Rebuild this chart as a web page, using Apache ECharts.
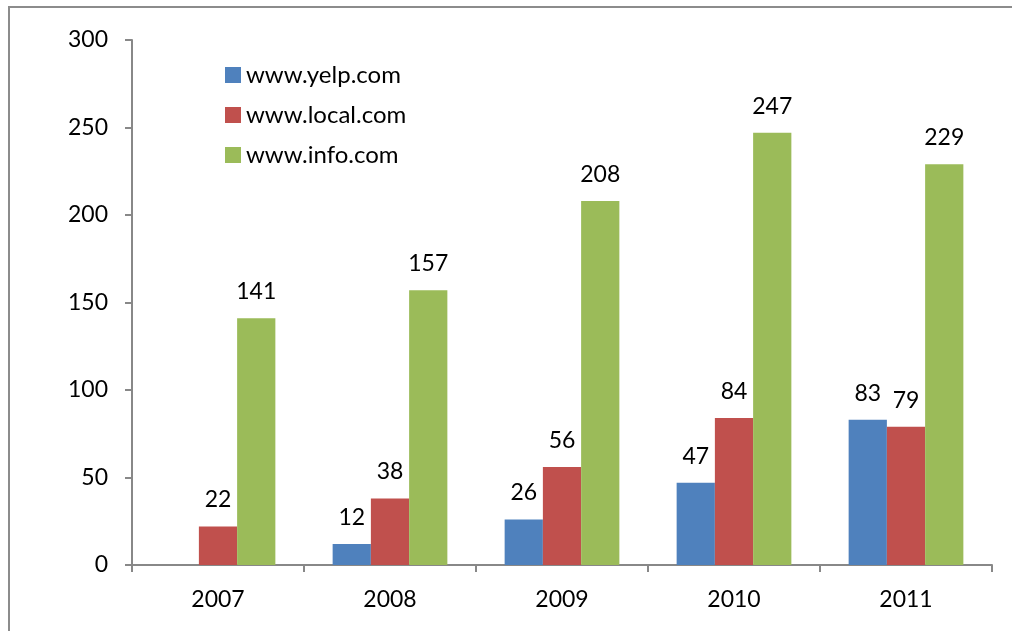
<!DOCTYPE html>
<html>
<head>
<meta charset="utf-8">
<script src="https://cdn.jsdelivr.net/npm/echarts@6/dist/echarts.min.js"></script>
<style>
  html, body { margin: 0; padding: 0; background: #fff; }
  #frame { position: absolute; left: 8px; top: 6px; width: 1010px; height: 640px;
           border-left: 2px solid #8c8c8c; border-top: 2px solid #8c8c8c; }
  #main { position: absolute; left: 0; top: 0; width: 1012px; height: 631px; }
</style>
</head>
<body>
<div id="frame"></div>
<div id="main"></div>
<script>
const years = ['2007', '2008', '2009', '2010', '2011']
const yelp = [null, 12, 26, 47, 83]
const local = [22, 38, 56, 84, 79]
const info = [141, 157, 208, 247, 229]

const font = 'Lato, "Liberation Sans", sans-serif'

const myChart = echarts.init(document.getElementById('main'))

const label = {
  show: true,
  position: 'top',
  distance: 15,
  color: '#000',
  fontSize: 23,
  fontFamily: font
}

const option = {
  animation: false,
  textStyle: { fontFamily: font },
  legend: {
    orient: 'vertical',
    left: 225,
    top: 63,
    padding: 0,
    itemWidth: 16,
    itemHeight: 16,
    itemGap: 16,
    icon: 'rect',
    textStyle: { fontSize: 24, lineHeight: 24, color: '#000', fontFamily: font },
    data: ['www.yelp.com', 'www.local.com', 'www.info.com']
  },
  grid: { left: 132, right: 20, top: 40, bottom: 66 },
  xAxis: {
    type: 'category',
    data: years,
    axisLine: { lineStyle: { color: '#888', width: 2 } },
    axisTick: { show: true, length: 7, lineStyle: { color: '#888', width: 2 } },
    axisLabel: { color: '#000', fontSize: 23, margin: 23, fontFamily: font }
  },
  yAxis: {
    type: 'value',
    min: 0,
    max: 300,
    interval: 50,
    splitLine: { show: false },
    axisLine: { show: true, lineStyle: { color: '#888', width: 2 } },
    axisTick: { show: true, length: 7, lineStyle: { color: '#888', width: 2 } },
    axisLabel: { color: '#000', fontSize: 23, margin: 24, fontFamily: font }
  },
  series: [
    { name: 'www.yelp.com', type: 'bar', data: yelp, barGap: '0%', barCategoryGap: '33.3%',
      itemStyle: { color: '#4F81BD' }, label },
    { name: 'www.local.com', type: 'bar', data: local, barGap: '0%', barCategoryGap: '33.3%',
      itemStyle: { color: '#C0504D' }, label },
    { name: 'www.info.com', type: 'bar', data: info, barGap: '0%', barCategoryGap: '33.3%',
      itemStyle: { color: '#9BBB59' }, label }
  ]
}

myChart.setOption(option)
</script>
</body>
</html>
